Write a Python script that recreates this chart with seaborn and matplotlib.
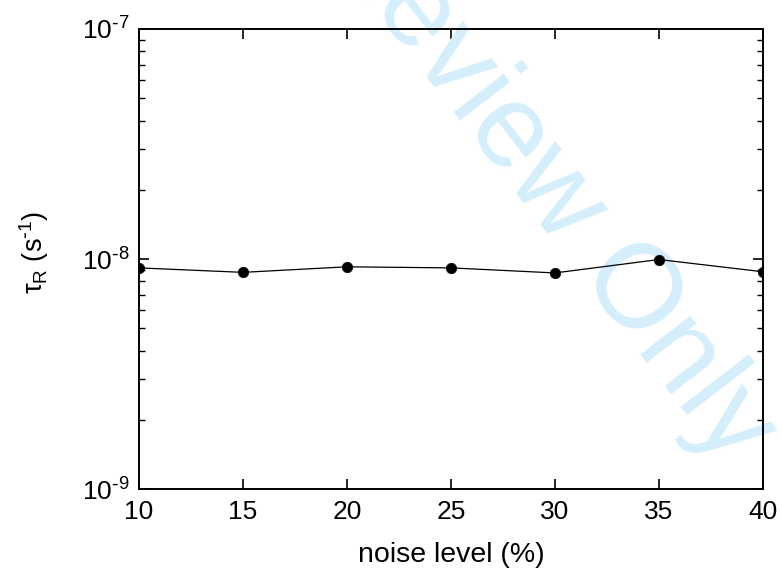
import matplotlib
matplotlib.use("Agg")
import matplotlib.pyplot as plt
import matplotlib.ticker as mticker
import seaborn as sns
import pandas as pd
import numpy as np

# noise level (%) and the fitted relaxation time
noise_level = [10, 15, 20, 25, 30, 35, 40]
tau_r = [9.15e-9, 8.75e-9, 9.25e-9, 9.15e-9, 8.7e-9, 9.95e-9, 8.8e-9]

x_ticks = [10, 15, 20, 25, 30, 35, 40]
y_limits = (1e-9, 1e-7)

sns.set_theme(style="ticks")
plt.rcParams["font.family"] = ["Liberation Sans", "DejaVu Sans"]
plt.rcParams["mathtext.default"] = "regular"
plt.rcParams["axes.unicode_minus"] = False
plt.rcParams["text.color"] = "black"
plt.rcParams["axes.labelcolor"] = "black"
plt.rcParams["xtick.color"] = "black"
plt.rcParams["ytick.color"] = "black"

df = pd.DataFrame({"noise": noise_level, "tau": tau_r})

fig = plt.figure(figsize=(7.82, 5.74), dpi=100)
ax = fig.add_axes([0.1777, 0.148, 0.798, 0.8015])

sns.lineplot(data=df, x="noise", y="tau", ax=ax, color="black", linewidth=0.9,
             marker="o", markersize=7.5, markeredgecolor="black",
             markeredgewidth=0.5, zorder=3)


def decade_label(v, pos):
    exp = int(round(np.log10(v)))
    sign = r"\text{-}" if exp < 0 else ""
    return r"$10^{%s%d}$" % (sign, abs(exp))


ax.set_yscale("log")
ax.set_xlim(10, 40)
ax.set_ylim(*y_limits)
ax.set_xticks(x_ticks)
ax.xaxis.set_minor_locator(mticker.NullLocator())
ax.yaxis.set_major_locator(mticker.LogLocator(base=10, numticks=10))
ax.yaxis.set_major_formatter(mticker.FuncFormatter(decade_label))
ax.yaxis.set_minor_locator(mticker.LogLocator(base=10, subs=range(2, 10), numticks=20))
ax.yaxis.set_minor_formatter(mticker.NullFormatter())

ax.tick_params(axis="both", which="major", direction="in", length=7,
               width=1.2, labelsize=19, top=True, right=True, color="black")
ax.tick_params(axis="x", which="major", pad=8)
ax.tick_params(axis="y", which="major", pad=7)
ax.tick_params(axis="y", which="minor", direction="in", length=4,
               width=1.0, right=True, left=True, color="black")
for s in ax.spines.values():
    s.set_linewidth(1.4)
    s.set_color("black")

ax.set_xlabel("noise level (%)", fontsize=20.5, labelpad=13)
ax.set_ylabel(r"$\tau_R$ (s$^{\text{-}1}$)", fontsize=19.5)
ax.yaxis.set_label_coords(-0.141, 0.515)

# review watermark
ax.text(0.586, 0.793, "For Review Only", transform=fig.transFigure,
        fontsize=86, color="#d4eefb", rotation=-52.4, rotation_mode="anchor",
        ha="center", va="baseline", clip_on=False, zorder=1)

fig.savefig("out.png", dpi=100)
